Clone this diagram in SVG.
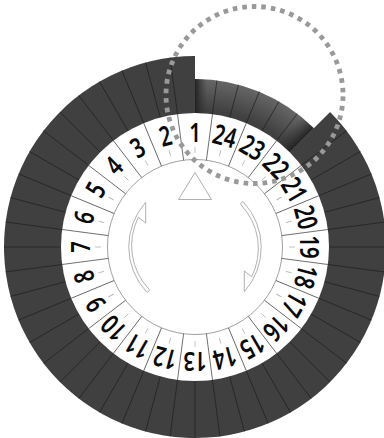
<svg xmlns="http://www.w3.org/2000/svg" width="384" height="438" viewBox="0 0 384 438">
<defs>
<style>
.l{stroke:#1a1a1a;stroke-width:.6;fill:none}
.w{stroke:#555;stroke-width:.8;fill:none}
.t{stroke:#bbb;stroke-width:.9}
.o{fill:#fff;stroke:#a8a8a8;stroke-width:.9;stroke-linejoin:round}
text{font-family:"Noto Sans","Open Sans",sans-serif;font-weight:600;font-size:27.5px;text-anchor:middle;fill:#0a0a0a}
</style>
<radialGradient id="rg" gradientUnits="userSpaceOnUse" cx="195" cy="247" r="168">
<stop offset=".82" stop-color="#404040"/><stop offset="1" stop-color="#666"/>
</radialGradient>
<linearGradient id="g1" gradientUnits="userSpaceOnUse" x1="195" y1="0" x2="207" y2="0">
<stop offset="0" stop-color="#222"/><stop offset="1" stop-color="#333" stop-opacity="0"/>
</linearGradient>
<linearGradient id="g2" gradientUnits="userSpaceOnUse" x1="300" y1="142" x2="288" y2="130">
<stop offset="0" stop-color="#222"/><stop offset="1" stop-color="#333" stop-opacity="0"/>
</linearGradient>
</defs>
<g id="dial-base">
<path d="M195 56A191 191 0 1 0 330.06 111.94L195 247Z" fill="#404040"/>
<path d="M195 79A168 168 0 0 1 313.8 128.2L195 247Z" fill="url(#rg)"/>
<path d="M195 79A168 168 0 0 1 313.8 128.2L195 247Z" fill="url(#g1)"/>
<path d="M195 79A168 168 0 0 1 313.8 128.2L195 247Z" fill="url(#g2)"/>
</g>
<g id="connectors" transform="translate(195 247)">
<g id="rays">
<line class="l" y1="-134" y2="-168" transform="rotate(7.5)"/><line class="l" y1="-134" y2="-168" transform="rotate(15)"/><line class="l" y1="-134" y2="-168" transform="rotate(22.5)"/><line class="l" y1="-134" y2="-168" transform="rotate(30)"/><line class="l" y1="-134" y2="-168" transform="rotate(37.5)"/>
<line class="l" y1="-134" y2="-191" transform="rotate(52.5)"/><line class="l" y1="-134" y2="-191" transform="rotate(60)"/><line class="l" y1="-134" y2="-191" transform="rotate(67.5)"/><line class="l" y1="-134" y2="-191" transform="rotate(75)"/><line class="l" y1="-134" y2="-191" transform="rotate(82.5)"/><line class="l" y1="-134" y2="-191" transform="rotate(90)"/><line class="l" y1="-134" y2="-191" transform="rotate(97.5)"/><line class="l" y1="-134" y2="-191" transform="rotate(105)"/><line class="l" y1="-134" y2="-191" transform="rotate(112.5)"/><line class="l" y1="-134" y2="-191" transform="rotate(120)"/><line class="l" y1="-134" y2="-191" transform="rotate(127.5)"/><line class="l" y1="-134" y2="-191" transform="rotate(135)"/><line class="l" y1="-134" y2="-191" transform="rotate(142.5)"/><line class="l" y1="-134" y2="-191" transform="rotate(150)"/><line class="l" y1="-134" y2="-191" transform="rotate(157.5)"/><line class="l" y1="-134" y2="-191" transform="rotate(165)"/><line class="l" y1="-134" y2="-191" transform="rotate(172.5)"/><line class="l" y1="-134" y2="-191" transform="rotate(180)"/><line class="l" y1="-134" y2="-191" transform="rotate(187.5)"/><line class="l" y1="-134" y2="-191" transform="rotate(195)"/><line class="l" y1="-134" y2="-191" transform="rotate(202.5)"/><line class="l" y1="-134" y2="-191" transform="rotate(210)"/><line class="l" y1="-134" y2="-191" transform="rotate(217.5)"/><line class="l" y1="-134" y2="-191" transform="rotate(225)"/><line class="l" y1="-134" y2="-191" transform="rotate(232.5)"/><line class="l" y1="-134" y2="-191" transform="rotate(240)"/><line class="l" y1="-134" y2="-191" transform="rotate(247.5)"/><line class="l" y1="-134" y2="-191" transform="rotate(255)"/><line class="l" y1="-134" y2="-191" transform="rotate(262.5)"/><line class="l" y1="-134" y2="-191" transform="rotate(270)"/><line class="l" y1="-134" y2="-191" transform="rotate(277.5)"/><line class="l" y1="-134" y2="-191" transform="rotate(285)"/><line class="l" y1="-134" y2="-191" transform="rotate(292.5)"/><line class="l" y1="-134" y2="-191" transform="rotate(300)"/><line class="l" y1="-134" y2="-191" transform="rotate(307.5)"/><line class="l" y1="-134" y2="-191" transform="rotate(315)"/><line class="l" y1="-134" y2="-191" transform="rotate(322.5)"/><line class="l" y1="-134" y2="-191" transform="rotate(330)"/><line class="l" y1="-134" y2="-191" transform="rotate(337.5)"/><line class="l" y1="-134" y2="-191" transform="rotate(345)"/><line class="l" y1="-134" y2="-191" transform="rotate(352.5)"/>
</g>
<circle r="134" fill="#fff"/>
<circle r="87.5" fill="#fff" stroke="#888" stroke-width=".8"/>
<g id="dividers">
<line class="w" y1="-87.5" y2="-134" transform="rotate(7.5)"/><line class="w" y1="-87.5" y2="-134" transform="rotate(22.5)"/><line class="w" y1="-87.5" y2="-134" transform="rotate(37.5)"/><line class="w" y1="-87.5" y2="-134" transform="rotate(52.5)"/><line class="w" y1="-87.5" y2="-134" transform="rotate(67.5)"/><line class="w" y1="-87.5" y2="-134" transform="rotate(82.5)"/><line class="w" y1="-87.5" y2="-134" transform="rotate(97.5)"/><line class="w" y1="-87.5" y2="-134" transform="rotate(112.5)"/><line class="w" y1="-87.5" y2="-134" transform="rotate(127.5)"/><line class="w" y1="-87.5" y2="-134" transform="rotate(142.5)"/><line class="w" y1="-87.5" y2="-134" transform="rotate(157.5)"/><line class="w" y1="-87.5" y2="-134" transform="rotate(172.5)"/><line class="w" y1="-87.5" y2="-134" transform="rotate(187.5)"/><line class="w" y1="-87.5" y2="-134" transform="rotate(202.5)"/><line class="w" y1="-87.5" y2="-134" transform="rotate(217.5)"/><line class="w" y1="-87.5" y2="-134" transform="rotate(232.5)"/><line class="w" y1="-87.5" y2="-134" transform="rotate(247.5)"/><line class="w" y1="-87.5" y2="-134" transform="rotate(262.5)"/><line class="w" y1="-87.5" y2="-134" transform="rotate(277.5)"/><line class="w" y1="-87.5" y2="-134" transform="rotate(292.5)"/><line class="w" y1="-87.5" y2="-134" transform="rotate(307.5)"/><line class="w" y1="-87.5" y2="-134" transform="rotate(322.5)"/><line class="w" y1="-87.5" y2="-134" transform="rotate(337.5)"/><line class="w" y1="-87.5" y2="-134" transform="rotate(352.5)"/>
</g>
</g>
<g id="numbers" transform="translate(195 247)">
<g id="n1" transform="rotate(0)"><line class="t" y1="-94" y2="-100"/><text transform="translate(0 -105) scale(.74 1)">1</text></g>
<g id="n24" transform="rotate(15)"><line class="t" y1="-94" y2="-100"/><text transform="translate(0 -105) scale(.74 1)">24</text></g>
<g id="n23" transform="rotate(30)"><line class="t" y1="-94" y2="-100"/><text transform="translate(0 -105) scale(.74 1)">23</text></g>
<g id="n22" transform="rotate(45)"><line class="t" y1="-94" y2="-100"/><text transform="translate(0 -105) scale(.74 1)">22</text></g>
<g id="n21" transform="rotate(60)"><line class="t" y1="-94" y2="-100"/><text transform="translate(0 -105) scale(.74 1)">21</text></g>
<g id="n20" transform="rotate(75)"><line class="t" y1="-94" y2="-100"/><text transform="translate(0 -105) scale(.74 1)">20</text></g>
<g id="n19" transform="rotate(90)"><line class="t" y1="-94" y2="-100"/><text transform="translate(0 -105) scale(.74 1)">19</text></g>
<g id="n18" transform="rotate(105)"><line class="t" y1="-94" y2="-100"/><text transform="translate(0 -105) scale(.74 1)">18</text></g>
<g id="n17" transform="rotate(120)"><line class="t" y1="-94" y2="-100"/><text transform="translate(0 -105) scale(.74 1)">17</text></g>
<g id="n16" transform="rotate(135)"><line class="t" y1="-94" y2="-100"/><text transform="translate(0 -105) scale(.74 1)">16</text></g>
<g id="n15" transform="rotate(150)"><line class="t" y1="-94" y2="-100"/><text transform="translate(0 -105) scale(.74 1)">15</text></g>
<g id="n14" transform="rotate(165)"><line class="t" y1="-94" y2="-100"/><text transform="translate(0 -105) scale(.74 1)">14</text></g>
<g id="n13" transform="rotate(180)"><line class="t" y1="-94" y2="-100"/><text transform="translate(0 -105) scale(.74 1)">13</text></g>
<g id="n12" transform="rotate(195)"><line class="t" y1="-94" y2="-100"/><text transform="translate(0 -105) scale(.74 1)">12</text></g>
<g id="n11" transform="rotate(210)"><line class="t" y1="-94" y2="-100"/><text transform="translate(0 -105) scale(.74 1)">11</text></g>
<g id="n10" transform="rotate(225)"><line class="t" y1="-94" y2="-100"/><text transform="translate(0 -105) scale(.74 1)">10</text></g>
<g id="n9" transform="rotate(240)"><line class="t" y1="-94" y2="-100"/><text transform="translate(0 -105) scale(.74 1)">9</text></g>
<g id="n8" transform="rotate(255)"><line class="t" y1="-94" y2="-100"/><text transform="translate(0 -105) scale(.74 1)">8</text></g>
<g id="n7" transform="rotate(270)"><line class="t" y1="-94" y2="-100"/><text transform="translate(0 -105) scale(.74 1)">7</text></g>
<g id="n6" transform="rotate(285)"><line class="t" y1="-94" y2="-100"/><text transform="translate(0 -105) scale(.74 1)">6</text></g>
<g id="n5" transform="rotate(300)"><line class="t" y1="-94" y2="-100"/><text transform="translate(0 -105) scale(.74 1)">5</text></g>
<g id="n4" transform="rotate(315)"><line class="t" y1="-94" y2="-100"/><text transform="translate(0 -105) scale(.74 1)">4</text></g>
<g id="n3" transform="rotate(330)"><line class="t" y1="-94" y2="-100"/><text transform="translate(0 -105) scale(.74 1)">3</text></g>
<g id="n2" transform="rotate(345)"><line class="t" y1="-94" y2="-100"/><text transform="translate(0 -105) scale(.74 1)">2</text></g>
</g>
<g id="pointer"><path class="o" d="M195 172.5L211.5 199.5H178.5Z"/></g>
<g id="arrow-right"><path class="o" d="M243.4 202A66.5 66.5 0 0 1 244.3 291.7V271L251.7 276.7A63.3 63.3 0 0 0 241 204.8A2 2 0 0 1 243.4 202Z"/></g>
<g id="arrow-left"><path class="o" transform="rotate(180 195 247)" d="M243.4 202A66.5 66.5 0 0 1 244.3 291.7V271L251.7 276.7A63.3 63.3 0 0 0 241 204.8A2 2 0 0 1 243.4 202Z"/></g>
<g id="highlight"><circle cx="254.5" cy="95" r="88.5" fill="none" stroke="#999" stroke-width="4.8" stroke-dasharray="4.6 4.987" stroke-dashoffset="-1.4"/></g>
</svg>
